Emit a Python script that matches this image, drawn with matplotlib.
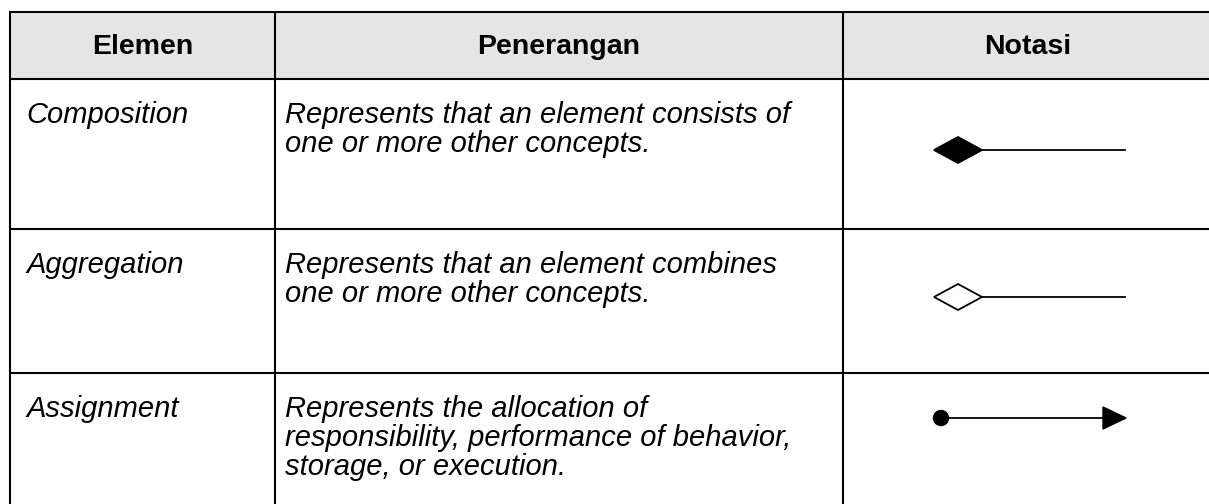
import matplotlib
matplotlib.use("Agg")
import matplotlib.pyplot as plt
from matplotlib.patches import Polygon, Circle, Rectangle

# table content
headers = ["Elemen", "Penerangan", "Notasi"]
elements = ["Composition", "Aggregation", "Assignment"]
descriptions = [
    ["Represents that an element consists of", "one or more other concepts."],
    ["Represents that an element combines", "one or more other concepts."],
    ["Represents the allocation of", "responsibility, performance of behavior,", "storage, or execution."],
]
notations = ["filled_diamond", "open_diamond", "dot_arrow"]

# layout in pixels
W, H = 1209, 504
col_x = [10, 275, 843, 1213]
row_y = [12, 79, 229, 373, 505]
lw = 1.5
fs_head = 20.5
fs = 21
font = "Liberation Sans"

fig = plt.figure(figsize=(W / 100, H / 100), dpi=100)
ax = fig.add_axes([0, 0, 1, 1])
ax.set_xlim(0, W)
ax.set_ylim(H, 0)
ax.axis("off")

ax.add_patch(Rectangle((col_x[0], row_y[0]), col_x[-1] - col_x[0], row_y[1] - row_y[0],
                       facecolor="#e5e5e5", edgecolor="none"))

for y in row_y[:-1]:
    ax.plot([col_x[0] - 1, col_x[-1]], [y, y], color="black", lw=lw, solid_capstyle="butt")
for x in col_x[:-1]:
    ax.plot([x, x], [row_y[0], row_y[-1]], color="black", lw=lw, solid_capstyle="butt")

for i, h in enumerate(headers):
    ax.text((col_x[i] + col_x[i + 1]) / 2, 54, h,
            ha="center", va="baseline", fontsize=fs_head, fontweight="bold", family=font)


def draw_notation(kind, yc):
    x0, x1 = 934, 1125
    if kind in ("filled_diamond", "open_diamond"):
        dw, dh = 48, 13
        ax.plot([x0 + dw, x1], [yc, yc], color="black", lw=1.3)
        ax.add_patch(Polygon([[x0, yc], [x0 + dw / 2, yc - dh], [x0 + dw, yc], [x0 + dw / 2, yc + dh]],
                             closed=True, facecolor="black" if kind == "filled_diamond" else "white",
                             edgecolor="black", lw=1.3, zorder=3))
    else:
        ax.plot([x0 + 6, x1 - 20], [yc, yc], color="black", lw=1.3)
        ax.add_patch(Circle((x0 + 7, yc), 7.5, facecolor="black", edgecolor="black", zorder=3))
        ax.add_patch(Polygon([[x1 - 22, yc - 11], [x1 + 1, yc], [x1 - 22, yc + 11]],
                             closed=True, facecolor="black", edgecolor="black", zorder=3))


for r in range(3):
    base = row_y[r + 1] + 44
    ax.text(26, base, elements[r], ha="left", va="baseline", fontsize=fs,
            style="italic", family=font)
    for k, line in enumerate(descriptions[r]):
        ax.text(285, base + 29 * k, line, ha="left", va="baseline", fontsize=fs,
                style="italic", family=font)

draw_notation(notations[0], 150)
draw_notation(notations[1], 297)
draw_notation(notations[2], 418)

fig.savefig("out.png", dpi=100)
